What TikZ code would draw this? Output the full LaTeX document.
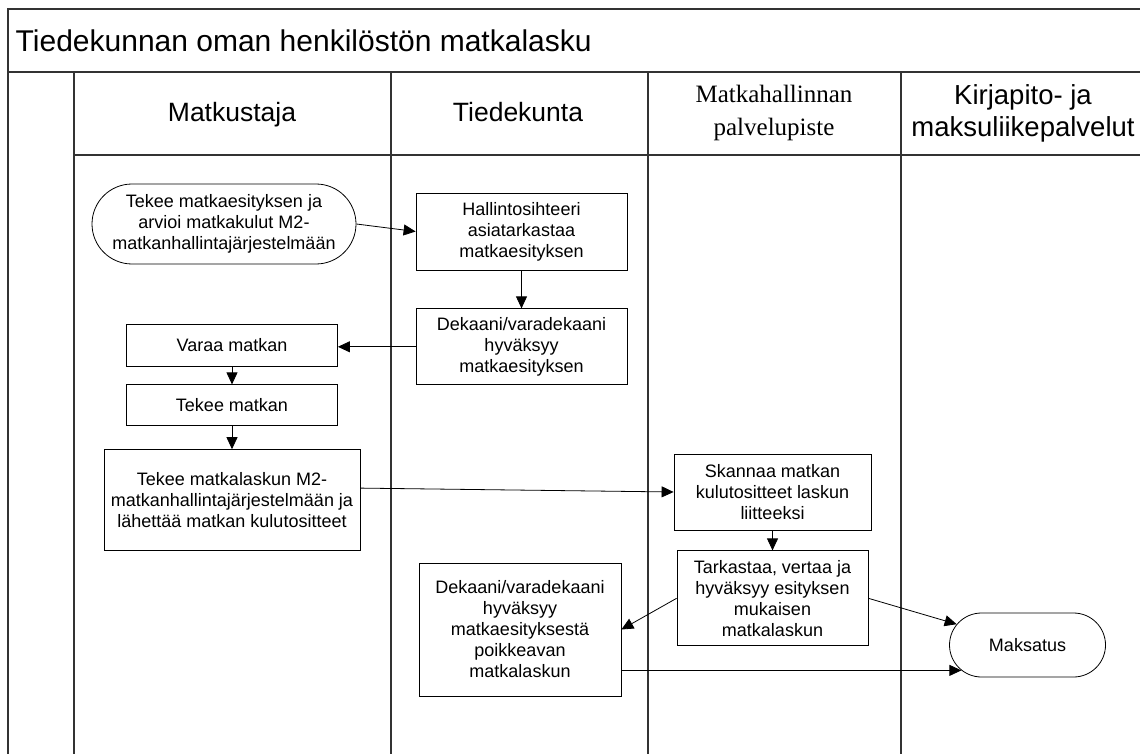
\documentclass[tikz,border=0pt]{standalone}
\usepackage{fontspec}
\setmainfont{Liberation Sans}
\newfontfamily\serifhead{Liberation Serif}
\usetikzlibrary{positioning,arrows.meta,shapes.misc}

\begin{document}
\begin{tikzpicture}[x=1pt, y=-1pt, line width=0.8pt, >={Triangle[length=12pt,width=11pt]},
      p/.style={draw, align=center, inner sep=2pt, font=\fontsize{18}{21}\selectfont},
      pa/.style={p, rounded rectangle},
      h/.style={align=center, font=\fontsize{26.5}{32}\selectfont},
      raja/.style={line width=1.2pt, draw=black!80}]
    \clip (0,0) rectangle (1140,754);
    \draw[raja] (1150,9) -- (8,9) -- (8,760);
    \draw[raja] (8,72) -- (1150,72);
    \draw[raja] (74,155) -- (1150,155);
    \foreach \x in {74,391,648,901} \draw[raja] (\x,72) -- (\x,760);

    \node[anchor=west, font=\fontsize{30}{36}\selectfont] (otsikko) at (12,41) {Tiedekunnan oman henkilöstön matkalasku};
    \node[h, anchor=base] (h1) at (232,122) {Matkustaja};
    \node[h, anchor=base] (h2) at (518,122) {Tiedekunta};
    \node[h, font=\serifhead\fontsize{25}{33}\selectfont] (h3) at (774,113) {Matkahallinnan\\palvelupiste};
    \node[h, font=\fontsize{27.5}{32}\selectfont] (h4) at (1023,113) {Kirjapito- ja\\maksuliikepalvelut};

    \node[pa, minimum width=268pt, minimum height=80pt] (a) at (224,224) {Tekee matkaesityksen ja\\arvioi matkakulut M2-\\matkanhallintajärjestelmään};
    \node[p, minimum width=211pt, minimum height=77pt] (b) at (521.5,231.5) {Hallintosihteeri\\asiatarkastaa\\matkaesityksen};
    \node[p, minimum width=211pt, minimum height=76pt, below=38pt of b] (c) {Dekaani/varadekaani\\hyväksyy\\matkaesityksen};
    \node[p, minimum width=211pt, minimum height=42pt] (d) at (232,345) {Varaa matkan};
    \node[p, minimum width=211pt, minimum height=41pt, below=18pt of d] (e) {Tekee matkan};
    \node[p, minimum width=256pt, minimum height=101pt, below=23pt of e] (f) {Tekee matkalaskun M2-\\matkanhallintajärjestelmään ja\\lähettää matkan kulutositteet};
    \node[p, minimum width=197pt, minimum height=76pt] (g) at (772.5,492) {Skannaa matkan\\kulutositteet laskun\\liitteeksi};
    \node[p, minimum width=191pt, minimum height=95pt, below=20pt of g] (k) {Tarkastaa, vertaa ja\\hyväksyy esityksen\\mukaisen\\matkalaskun};
    \node[p, minimum width=202pt, minimum height=133pt] (m) at (520,629.5) {Dekaani/varadekaani\\hyväksyy\\matkaesityksestä\\poikkeavan\\matkalaskun};
    \node[pa, minimum width=160pt, minimum height=64pt] (n) at (1027.5,645) {Maksatus};

    \draw[->] (a.east) -- (b.west); \draw[->] (b) -- (c);
    \draw[->] (c.west) -- (c.west -| d.east); \draw[->] (d) -- (e); \draw[->] (e) -- (f);
    \draw[->] ([yshift=12pt]f.east) -- (g.west); \draw[->] (g) -- (k);
    \draw[->] (k.west) -- (m.east); \draw[->] (k.east) -- (n);
    \draw[->] (m.east |- n.201) -- (n.201);
  \end{tikzpicture}
\end{document}
